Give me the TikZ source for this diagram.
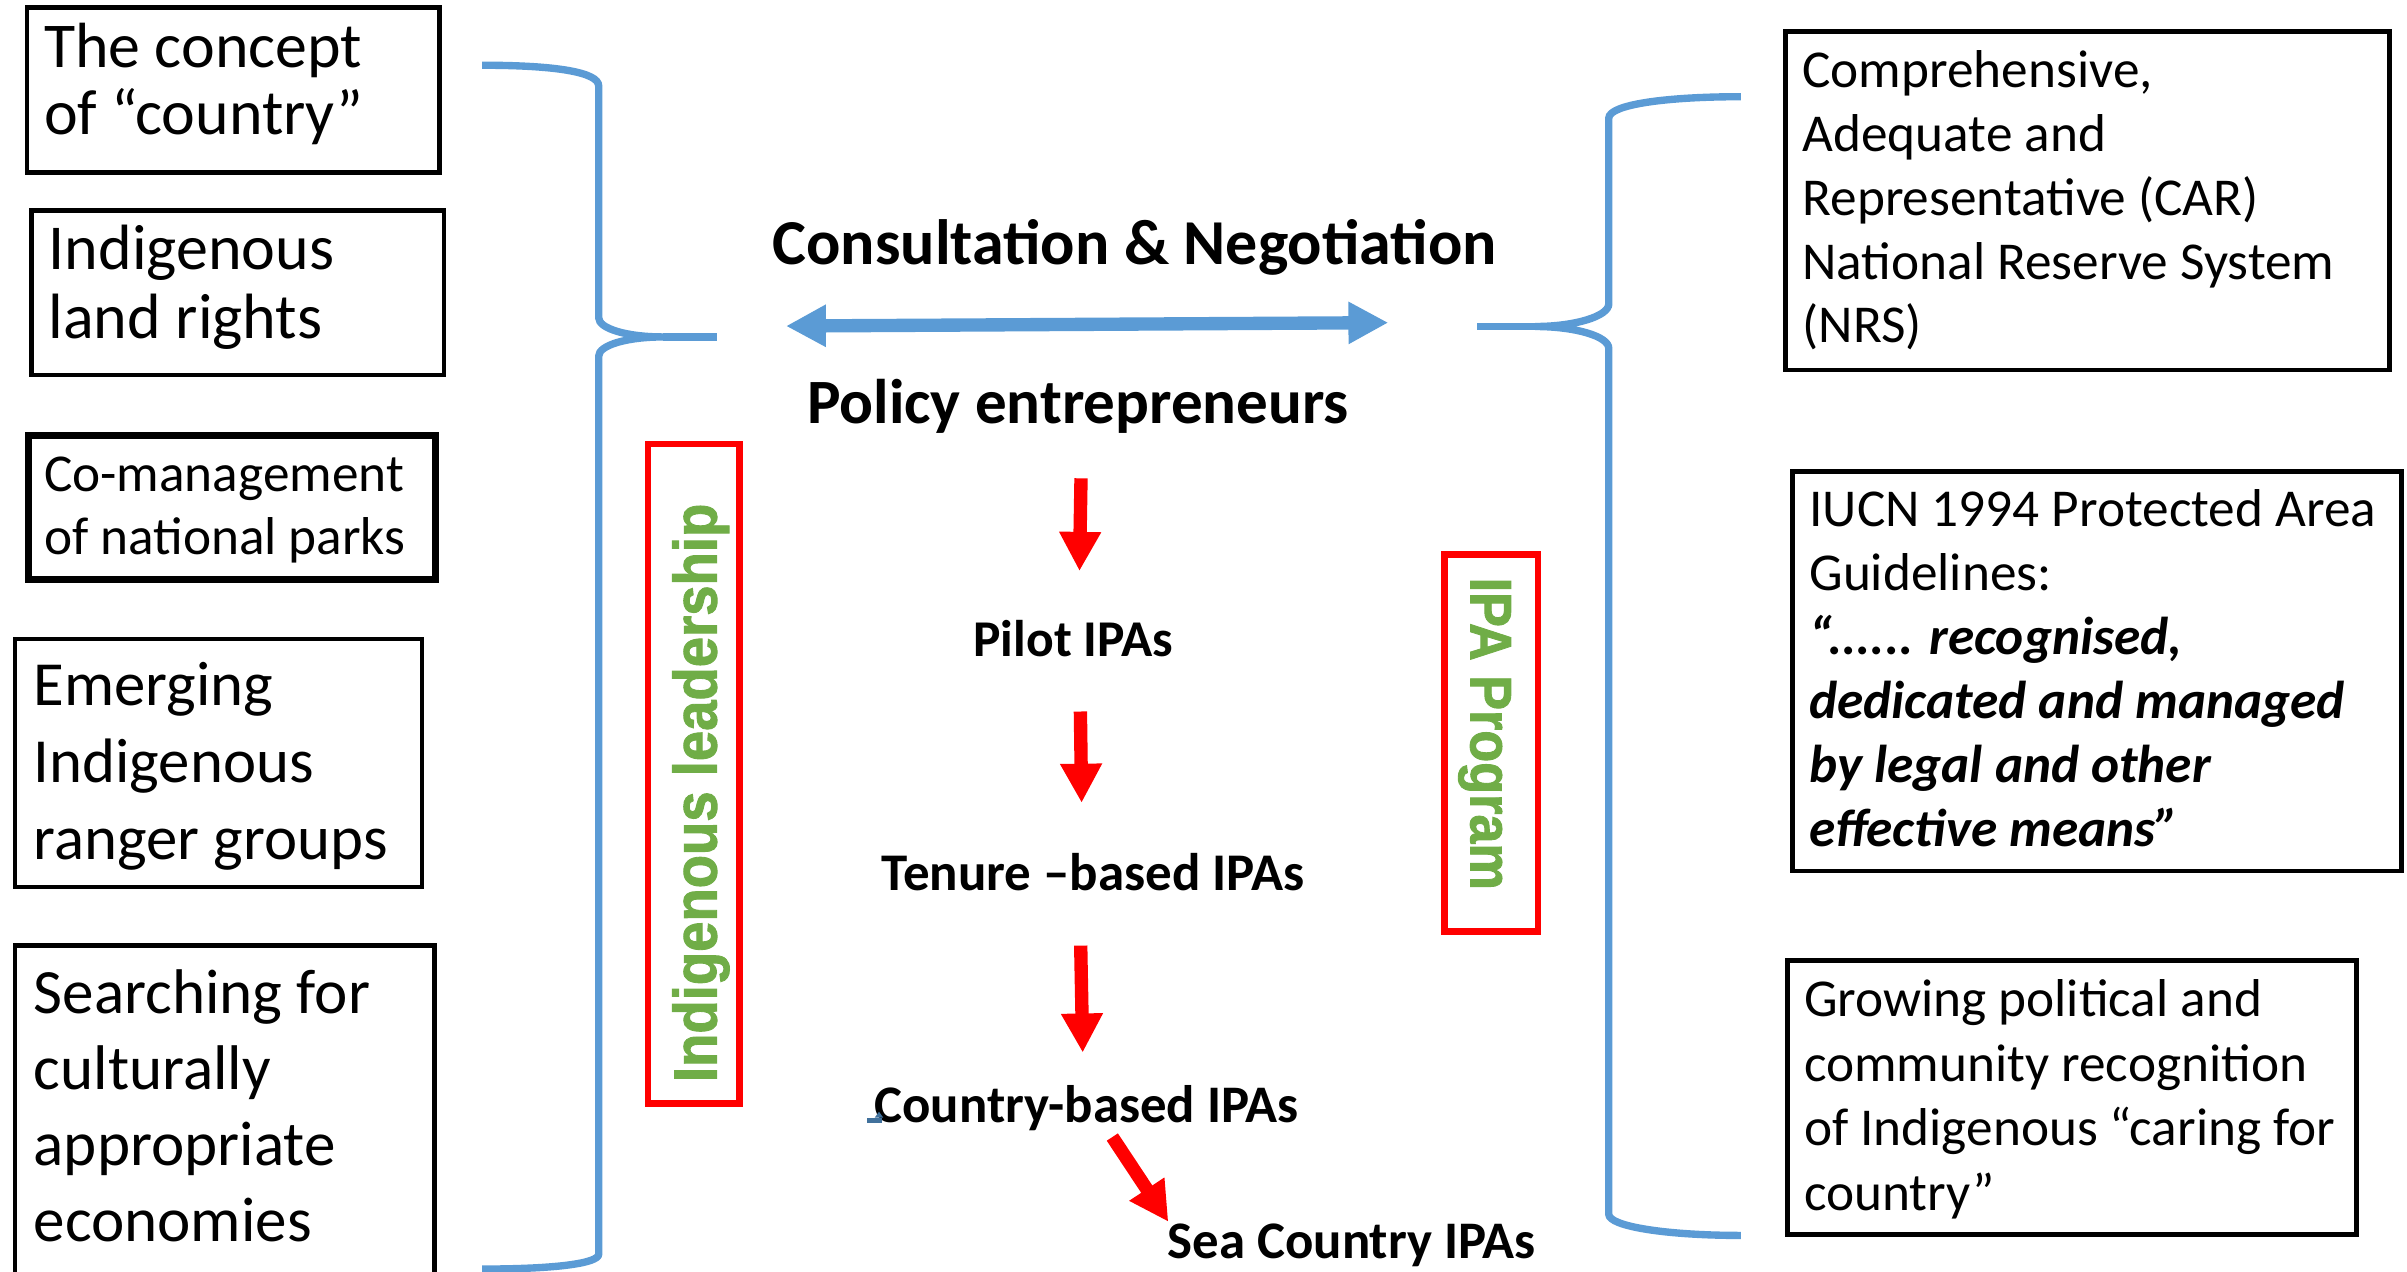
\documentclass[tikz,border=0pt]{standalone}
\usepackage{graphicx}
\usepackage{fontspec}
\setmainfont{Carlito}
\newfontfamily\arialfont{Liberation Sans}[BoldFeatures={FakeBold=1.6}]
\usetikzlibrary{arrows.meta}
\definecolor{bracebl}{HTML}{5B9BD5}
\definecolor{lblgreen}{HTML}{70AD47}
\definecolor{markbl}{HTML}{41719C}
\begin{document}
\begin{tikzpicture}[x=1pt,y=-1pt,
  box/.style={draw=black, line width=3pt, inner sep=0pt},
  redbox/.style={draw=red, line width=4.3pt, inner sep=0pt},
  txt/.style={inner sep=0pt, anchor=base west},
  ctr/.style={inner sep=0pt, anchor=base west, font=\bfseries\fontsize{34.4}{40}\selectfont},
  vlabel/.style={inner sep=0pt, anchor=base, text=lblgreen},
  brace/.style={draw=bracebl, line width=4.8pt},
  redarr/.style={draw=red, line width=8.7pt, -{Triangle[length=25.5pt,width=25.6pt]}},
  bluearr/.style={draw=bracebl, line width=8.7pt, {Triangle[length=26pt,width=25.8pt]}-{Triangle[length=26pt,width=25.8pt]}},
]
\useasboundingbox (0,0) rectangle (1568,828.6);

% ---------- left boxes ----------
\node[box, minimum width=268.8pt, minimum height=107.6pt] (b1) at (151.9,58.5) {};
\node[txt, font=\fontsize{41.6}{43.8}\selectfont] (t1) at (28.5,43.9)
  {\begin{tabular}[t]{@{}l@{}}The concept\\of “country”\end{tabular}};

\node[box, minimum width=268.7pt, minimum height=107.4pt] (b2) at (154.85,190.7) {};
\node[txt, font=\fontsize{41.7}{45.2}\selectfont] (t2) at (31.5,175.4)
  {\begin{tabular}[t]{@{}l@{}}Indigenous\\land rights\end{tabular}};

\node[box, line width=4.6pt, minimum width=265.1pt, minimum height=93.7pt] (b3) at (150.85,330.85) {};
\node[txt, font=\fontsize{34.7}{41.5}\selectfont] (t3) at (28.5,320)
  {\begin{tabular}[t]{@{}l@{}}Co-management\\of national parks\end{tabular}};

\node[box, minimum width=265.1pt, minimum height=161.7pt] (b4) at (142.35,497.05) {};
\node[txt, font=\fontsize{40.9}{50.1}\selectfont] (t4) at (21.8,459.4)
  {\begin{tabular}[t]{@{}l@{}}Emerging\\Indigenous\\ranger groups\end{tabular}};

\node[box, minimum width=273.4pt, minimum height=222.4pt] (b5) at (146.5,727.3) {};
\node[txt, font=\fontsize{41.1}{49.6}\selectfont] (t5) at (21.8,660)
  {\begin{tabular}[t]{@{}l@{}}Searching for\\culturally\\appropriate\\economies\end{tabular}};

% ---------- right boxes ----------
\node[box, minimum width=393.2pt, minimum height=220.5pt] (bA) at (1359.9,130.75) {};
\node[txt, font=\fontsize{34.7}{41.6}\selectfont] (tA) at (1174,57)
  {\begin{tabular}[t]{@{}l@{}}Comprehensive,\\Adequate and\\Representative (CAR)\\National Reserve System\\(NRS)\end{tabular}};

\node[box, minimum width=397pt, minimum height=260.2pt] (bB) at (1366,437.2) {};
\node[txt, font=\fontsize{34.7}{41.7}\selectfont] (tB) at (1178.5,343)
  {\begin{tabular}[t]{@{}l@{}}IUCN 1994 Protected Area\\Guidelines:\\
   \textbf{\textit{“...... recognised,}}\\
   \textbf{\textit{dedicated and managed}}\\
   \textbf{\textit{by legal and other}}\\
   \textbf{\textit{effective means”}}\end{tabular}};

\node[box, minimum width=370.7pt, minimum height=178.6pt] (bC) at (1349.85,714.8) {};
\node[txt, font=\fontsize{34.7}{42}\selectfont] (tC) at (1175,662.5)
  {\begin{tabular}[t]{@{}l@{}}Growing political and\\community recognition\\of Indigenous “caring for\\country”\end{tabular}};

% ---------- braces ----------
\draw[brace] (314,42.5) .. controls (362,42.5) and (390,47) .. (390,56)
  -- (390,207) .. controls (390,214) and (408,219.5) .. (432,219.5)
  .. controls (408,219.5) and (390,225) .. (390,232)
  -- (390,817) .. controls (390,823) and (362,826.7) .. (314,826.7);
\draw[brace] (432,219.5) -- (467,219.5);

\draw[brace] (1134,63) .. controls (1086,63) and (1048,68) .. (1048,77)
  -- (1048,198) .. controls (1048,206) and (1026,212.7) .. (1000,212.7)
  .. controls (1026,212.7) and (1048,219) .. (1048,227)
  -- (1048,791) .. controls (1048,799) and (1086,804.8) .. (1134,804.8);
\draw[brace] (1000,212.7) -- (962,212.7);

% ---------- centre texts ----------
\node[txt, font=\bfseries\fontsize{41.7}{48}\selectfont] (cons) at (503,172.6) {Consultation \& Negotiation};
\node[txt, font=\bfseries\fontsize{41.1}{48}\selectfont] (pol) at (525.5,275.8) {Policy entrepreneurs};
\node[ctr, font=\bfseries\fontsize{33.6}{40}\selectfont] (pilot) at (634,427.8) {Pilot IPAs};
\node[ctr, font=\bfseries\fontsize{34.5}{40}\selectfont] (ten) at (574,580) {Tenure –based IPAs};
\node[ctr] (cty) at (569.5,731.4) {Country-based IPAs};
\node[ctr] (sea) at (760.5,820) {Sea Country IPAs};

% ---------- arrows ----------
\coordinate (dl) at (512,212.4);
\coordinate (dr) at (904.4,210.2);
\draw[bluearr] (dl) -- (dr);

\coordinate (a1s) at (704.2,311.6);
\coordinate (a1e) at (703.2,372);
\coordinate (a2s) at (703.8,463.5);
\coordinate (a2e) at (704.6,523);
\coordinate (a3s) at (704,616);
\coordinate (a3e) at (705.3,685.7);
\coordinate (a4s) at (724.6,740.7);
\coordinate (a4e) at (761.1,795.9);
\draw[redarr] (a1s) -- (a1e);
\draw[redarr] (a2s) -- (a2e);
\draw[redarr] (a3s) -- (a3e);
\draw[redarr] (a4s) -- (a4e);

% small blue mark
\fill[markbl] (564.6,728.1) rectangle (574.4,731.4);
\fill[markbl] (569.8,728.1) -- (572.6,724.2) -- (575.4,728.1) -- cycle;

% ---------- vertical labels ----------
\node[redbox, minimum width=59.7pt, minimum height=429.7pt] (rl) at (452,504) {};
\node[vlabel, rotate=90, font=\arialfont\bfseries\fontsize{35.5}{40}\selectfont] (lead) at (466.8,516.5)
  {\scalebox{1}[1.12]{Indigenous leadership}};

\node[redbox, minimum width=60.7pt, minimum height=245.7pt] (rr) at (971.5,484) {};
\node[vlabel, rotate=-90, font=\arialfont\bfseries\fontsize{34}{40}\selectfont] (ipa) at (958,478)
  {\scalebox{1}[1.12]{IPA Program}};
\end{tikzpicture}
\end{document}
